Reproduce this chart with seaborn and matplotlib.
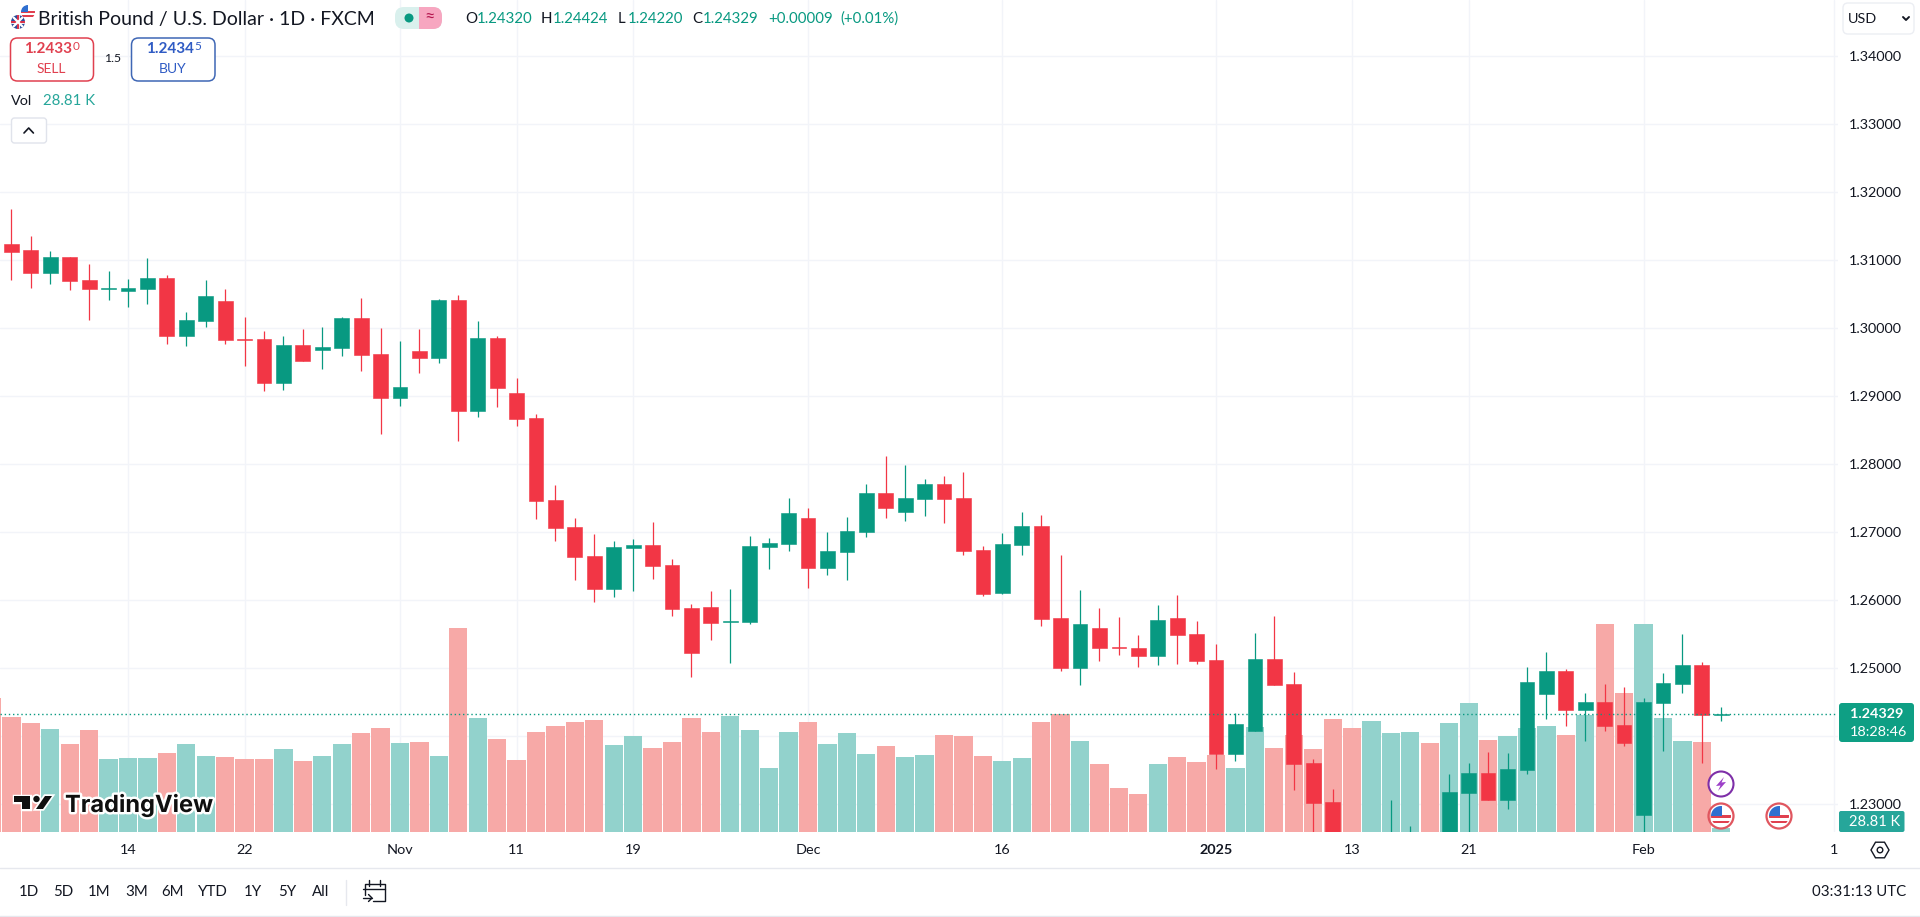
import matplotlib
matplotlib.use("Agg")
import matplotlib.pyplot as plt
from matplotlib.patches import Circle, FancyBboxPatch, Polygon, Rectangle, RegularPolygon
import matplotlib.patheffects as pe
import pandas as pd
import seaborn as sns

# OHLC, one value per day (i = 0 .. 88)
opens = [1.31240, 1.31152, 1.30814, 1.31049, 1.30711, 1.30583, 1.30549, 1.30579, 1.30740, 1.29888,
         1.30108, 1.30402, 1.29844, 1.29844, 1.29197, 1.29755, 1.29682, 1.29711, 1.30152, 1.29623,
         1.28976, 1.29667, 1.29564, 1.30417, 1.28785, 1.29858, 1.29050, 1.28681, 1.27476, 1.27079,
         1.26652, 1.26167, 1.26770, 1.26814, 1.26520, 1.25888, 1.25903, 1.25682, 1.25682, 1.26785,
         1.26829, 1.27211, 1.26476, 1.26711, 1.27005, 1.27579, 1.27299, 1.27490, 1.27711, 1.27505,
         1.26741, 1.26109, 1.26814, 1.27093, 1.25740, 1.25005, 1.25593, 1.25314, 1.25299, 1.25181,
         1.25740, 1.25505, 1.25123, 1.23741, 1.24079, 1.25137, 1.24770, 1.23608, 1.23035, 1.22500,
         1.22000, 1.22200, 1.22400, 1.22500, 1.22400, 1.23167, 1.23461, 1.23064, 1.23505, 1.24623,
         1.24961, 1.24387, 1.24505, 1.24167, 1.22844, 1.24490, 1.24770, 1.25049, 1.24320]
highs = [1.31755, 1.31358, 1.31137, 1.31049, 1.30946, 1.30843, 1.30726, 1.31034, 1.30784, 1.30240,
         1.30711, 1.30579, 1.30167, 1.29961, 1.29888, 1.29991, 1.30020, 1.30167, 1.30446, 1.30005,
         1.29814, 1.29991, 1.30427, 1.30490, 1.30108, 1.29888, 1.29270, 1.28740, 1.27696, 1.27211,
         1.26976, 1.26873, 1.26902, 1.27152, 1.26608, 1.25947, 1.26138, 1.26167, 1.26946, 1.26917,
         1.27505, 1.27358, 1.27005, 1.27226, 1.27711, 1.28123, 1.27990, 1.27784, 1.27828, 1.27887,
         1.26800, 1.26991, 1.27299, 1.27255, 1.26666, 1.26152, 1.25887, 1.25755, 1.25490, 1.25931,
         1.26078, 1.25696, 1.25358, 1.24343, 1.25519, 1.25769, 1.24946, 1.23667, 1.23226, 1.22600,
         1.22500, 1.23064, 1.22682, 1.22550, 1.23447, 1.23608, 1.23770, 1.23755, 1.25020, 1.25240,
         1.24990, 1.24637, 1.24770, 1.24726, 1.24559, 1.24931, 1.25505, 1.25093, 1.24424]
lows = [1.30711, 1.30593, 1.30652, 1.30564, 1.30123, 1.30417, 1.30314, 1.30358, 1.29770, 1.29741,
        1.30020, 1.29770, 1.29447, 1.29079, 1.29094, 1.29520, 1.29403, 1.29594, 1.29373, 1.28447,
        1.28859, 1.29339, 1.29491, 1.28344, 1.28697, 1.28844, 1.28565, 1.27196, 1.26873, 1.26300,
        1.25976, 1.26050, 1.26138, 1.26314, 1.25770, 1.24874, 1.25418, 1.25080, 1.25653, 1.26461,
        1.26726, 1.26182, 1.26373, 1.26300, 1.26932, 1.27211, 1.27167, 1.27240, 1.27138, 1.26667,
        1.26065, 1.26094, 1.26667, 1.25623, 1.24961, 1.24755, 1.25108, 1.25196, 1.25020, 1.25049,
        1.25064, 1.25064, 1.23520, 1.23638, 1.24079, 1.24755, 1.23211, 1.22500, 1.22450, 1.22000,
        1.21900, 1.22000, 1.22200, 1.22100, 1.22200, 1.22500, 1.23064, 1.22932, 1.23447, 1.24255,
        1.24152, 1.23932, 1.24079, 1.23858, 1.22500, 1.23785, 1.24637, 1.23608, 1.24220]
closes = [1.31123, 1.30814, 1.31049, 1.30696, 1.30579, 1.30593, 1.30593, 1.30740, 1.29888, 1.30123,
          1.30476, 1.29829, 1.29834, 1.29197, 1.29755, 1.29520, 1.29726, 1.30152, 1.29608, 1.28976,
          1.29138, 1.29564, 1.30417, 1.28785, 1.29858, 1.29123, 1.28668, 1.27461, 1.27064, 1.26638,
          1.26167, 1.26785, 1.26814, 1.26505, 1.25873, 1.25227, 1.25668, 1.25697, 1.26800, 1.26844,
          1.27285, 1.26476, 1.26726, 1.27020, 1.27579, 1.27358, 1.27505, 1.27711, 1.27490, 1.26726,
          1.26094, 1.26829, 1.27093, 1.25726, 1.25005, 1.25652, 1.25299, 1.25304, 1.25181, 1.25711,
          1.25490, 1.25108, 1.23741, 1.24182, 1.25137, 1.24755, 1.23594, 1.23020, 1.22550, 1.22200,
          1.22400, 1.22600, 1.22600, 1.22250, 1.23182, 1.23461, 1.23064, 1.23520, 1.24799, 1.24961,
          1.24387, 1.24505, 1.24152, 1.23902, 1.24505, 1.24784, 1.25049, 1.24314, 1.24329]

# volume in thousands, first entry is the sliver of the day before i = 0
volumes = [1069, 923, 875, 824, 707, 816, 587, 595, 595, 632, 707, 611, 600, 587, 587, 667, 571, 611,
           707, 795, 835, 715, 723, 611, 1632, 915, 744, 579, 803, 851, 883, 899, 699, 771, 675, 723,
           915, 803, 931, 819, 515, 803, 883, 707, 795, 627, 691, 603, 619, 779, 771, 611, 571, 595,
           883, 947, 731, 547, 355, 307, 547, 603, 563, 619, 515, 843, 675, 776, 664, 904, 832, 888,
           792, 800, 712, 872, 1032, 736, 768, 832, 848, 776, 936, 1664, 1112, 1664, 912, 728, 720, 28.81]

price_ticks = [1.34, 1.33, 1.32, 1.31, 1.30, 1.29, 1.28, 1.27, 1.26, 1.25, 1.24, 1.23]
price_hidden = [1.24]  # sits behind the last price tag in the reference
date_pos = [6, 12, 20, 26, 32, 41, 51, 62, 69, 75, 84, 93.8]
date_labels = ["14", "22", "Nov", "11", "19", "Dec", "16", "2025", "13", "21", "Feb", "1"]
last_price = 1.24329

RED = "#f23645"
GREEN = "#089981"
VOL_RED = "#f7a9a7"
VOL_GREEN = "#92d2cc"
GRID = "#f2f4f9"
INK = "#131722"
FONT = "Lato"

sns.set_theme(style="white")
plt.rcParams["font.family"] = [FONT, "DejaVu Sans"]

W, H = 1920, 917
PANE_R, PANE_B = 1838, 832
fig = plt.figure(figsize=(W / 100, H / 100), dpi=100, facecolor="white")
pane = [0, 1 - PANE_B / H, PANE_R / W, PANE_B / H]

# x: bar i sits at 11.4 + 19.43 * i px; y: 1.31 at 260.3 px, 0.01 = 68 px
x_range = (-11.4 / 19.43, (PANE_R - 11.4) / 19.43)
y_range = (1.31 - (PANE_B - 260.3) / 6800, 1.31 + 260.3 / 6800)

# back layer: grid and axis labels
ax_bg = fig.add_axes(pane, zorder=1)
ax_bg.set_xlim(x_range)
ax_bg.set_ylim(y_range)
ax_bg.set_xticks(date_pos)
ax_bg.set_xticklabels(date_labels)
ax_bg.set_yticks(price_ticks)
ax_bg.set_yticklabels(["" if p in price_hidden else f"{p:.5f}" for p in price_ticks])
ax_bg.yaxis.tick_right()
ax_bg.tick_params(axis="both", length=0, labelsize=10.4, labelcolor=INK)
ax_bg.tick_params(axis="y", pad=8)
ax_bg.tick_params(axis="x", pad=9)
ax_bg.grid(True, color=GRID, linewidth=1)
for lab in ax_bg.get_xticklabels():
    if lab.get_text() == "2025":
        lab.set_fontweight("bold")
sns.despine(ax=ax_bg, left=True, bottom=True, right=True, top=True)

# volume layer
sides = ["down" if c < o else "up" for o, c in zip(opens, closes)]
vol_df = pd.DataFrame({
    "day": list(range(-1, len(opens))),
    "volume": volumes,
    "side": ["down"] + sides,
})
ax_vol = fig.add_axes(pane, zorder=2)
ax_vol.patch.set_alpha(0)
sns.barplot(data=vol_df, x="day", y="volume", hue="side", palette={"up": VOL_GREEN, "down": VOL_RED},
            native_scale=True, dodge=False, width=0.94, saturation=1, linewidth=0, legend=False, ax=ax_vol)
ax_vol.set_xlim(x_range)
ax_vol.set_ylim(0, PANE_B * 8)
ax_vol.axis("off")

# candles on top
ax = fig.add_axes(pane, zorder=3)
ax.patch.set_alpha(0)
ax.axhline(last_price, color=GREEN, linewidth=1, linestyle=(0, (1, 2)))
for i, (o, h, l, c) in enumerate(zip(opens, highs, lows, closes)):
    col = RED if c < o else GREEN
    ax.vlines(i, l, h, color=col, linewidth=0.9)
    ax.bar(i, abs(c - o), bottom=min(o, c), width=0.76, color=col, edgecolor=col, linewidth=0.4)
ax.set_xlim(x_range)
ax.set_ylim(y_range)
ax.axis("off")

# everything around the chart in pixel coordinates
ui = fig.add_axes([0, 0, 1, 1], zorder=4)
ui.set_xlim(0, W)
ui.set_ylim(H, 0)
ui.axis("off")
ui.patch.set_alpha(0)


def label(x, y, s, size=10.4, color=INK, ha="left", weight="normal"):
    return ui.text(x, y, s, fontsize=size, color=color, ha=ha, va="center", fontweight=weight)


def box(x0, y0, x1, y1, face="white", edge="none", lw=1.0, r=3):
    p = FancyBboxPatch((x0 + r, y0 + r), x1 - x0 - 2 * r, y1 - y0 - 2 * r, boxstyle=f"round,pad={r}",
                       facecolor=face, edgecolor=edge, linewidth=lw)
    ui.add_patch(p)
    return p


def clipped(clip, artist):
    ui.add_patch(artist)
    artist.set_clip_path(clip)


def us_flag(cx, cy, r):
    c = Circle((cx, cy), r, facecolor="white", edgecolor="none")
    ui.add_patch(c)
    for k in (-0.1, 0.45):
        clipped(c, Rectangle((cx - r, cy + k * r), 2 * r, 0.28 * r, facecolor="#e0404f", edgecolor="none"))
    clipped(c, Rectangle((cx - r, cy - r), r * 1.05, r, facecolor="#2f6fd0", edgecolor="none"))


def uk_flag(cx, cy, r):
    c = Circle((cx, cy), r, facecolor="#2b4d9b", edgecolor="none")
    ui.add_patch(c)
    for dx, dy in ((1, 1), (1, -1)):
        ln, = ui.plot([cx - dx * r, cx + dx * r], [cy - dy * r, cy + dy * r], color="white", lw=1.6)
        ln.set_clip_path(c)
    clipped(c, Rectangle((cx - r, cy - 1.5), 2 * r, 3, facecolor="#e8eaf0", edgecolor="none"))
    clipped(c, Rectangle((cx - 1.5, cy - r), 3, 2 * r, facecolor="#e8eaf0", edgecolor="none"))
    clipped(c, Rectangle((cx - r, cy - 0.8), 2 * r, 1.6, facecolor="#d9324a", edgecolor="none"))
    clipped(c, Rectangle((cx - 0.8, cy - r), 1.6, 2 * r, facecolor="#d9324a", edgecolor="none"))


# header
us_flag(28, 12, 7)
uk_flag(18, 22, 7)
label(38, 19, "British Pound / U.S. Dollar · 1D · FXCM", size=14)
pill = box(395, 7, 442, 29, face="#d9f0ed", r=9)
clipped(pill, Rectangle((419, 7), 23, 22, facecolor="#f7a6c0", edgecolor="none"))
ui.add_patch(Circle((409, 18), 4.5, facecolor=GREEN, edgecolor="none"))
label(430, 18, "≈", size=13, color="#b5174f", ha="center")

for x, s, col in [(465, "O", INK), (477, "1.24320", GREEN), (541, "H", INK), (553, "1.24424", GREEN),
                  (618, "L", INK), (628, "1.24220", GREEN), (692, "C", INK), (703, "1.24329", GREEN),
                  (768, "+0.00009", GREEN), (840, "(+0.01%)", GREEN)]:
    label(x, 19, s, size=10.8, color=col)

# sell / buy
box(10.5, 38, 93.5, 81, edge="#e0404f", lw=1.1, r=7)
label(24.5, 49, "1.2433", size=11, color="#e0404f", weight="bold")
label(72.5, 47, "0", size=8.5, color="#e0404f")
label(51, 69, "SELL", size=10, color="#e0404f", ha="center")
label(113, 59, "1.5", size=8.8, ha="center")
box(131.5, 38, 215, 81, edge="#3f67b5", lw=1.1, r=7)
label(146, 49, "1.2434", size=11, color="#2f5bc4", weight="bold")
label(194.5, 47, "5", size=8.5, color="#2f5bc4")
label(173, 69, "BUY", size=10, color="#2f5bc4", ha="center")
label(11, 101, "Vol", size=10.4)
label(43, 101, "28.81 K", size=10.8, color="#26a69a")
box(11.5, 118, 46.5, 143, edge="#e0e3eb", lw=1, r=3)
ui.plot([24, 28.7, 33.4], [133, 128, 133], color=INK, lw=1.2)

# currency box
box(1843, 3, 1914, 34, edge="#eceef3", lw=1, r=5)
label(1848, 19, "USD", size=10.4)
ui.plot([1903, 1906, 1909], [17, 20, 17], color=INK, lw=1.4)

# price tags
box(1839, 703, 1914, 742, face="#0e9f84", r=3)
label(1850, 714, "1.24329", size=10.4, color="white", weight="bold")
label(1850, 732, "18:28:46", size=10.4, color="white")
box(1839, 811, 1904.5, 832, face="#26a69a", r=2)
label(1849, 822, "28.81 K", size=10.6, color="white")

# logo
logo_shapes = [
    [(14, 796), (30, 796), (30, 809), (22, 809), (22, 802), (14, 802)],
    [(45, 796), (52, 796), (43, 809), (36, 809)],
]
for pts in logo_shapes:
    ui.add_patch(Polygon(pts, closed=True, facecolor="white", edgecolor="white", linewidth=2.5))
ui.add_patch(Circle((36.5, 799), 3.2, facecolor="white", edgecolor="white", linewidth=2.5))
for pts in logo_shapes:
    ui.add_patch(Polygon(pts, closed=True, facecolor="#0f0f0f", edgecolor="none"))
ui.add_patch(Circle((36.5, 799), 3.2, facecolor="#0f0f0f", edgecolor="none"))
logo_txt = ui.text(65, 805.5, "TradingView", fontsize=17, fontweight="bold", color="#0f0f0f", va="center",
                   family=["Inter", "DejaVu Sans"])
logo_txt.set_path_effects([pe.withStroke(linewidth=3.5, foreground="white")])

# event markers
ui.add_patch(Circle((1721, 784), 12.5, facecolor="white", edgecolor="#7e2fa8", linewidth=1.5))
ui.add_patch(Polygon([(1724, 777), (1716, 786), (1720.5, 785.5), (1718, 791), (1726, 782), (1721.5, 782.5)],
                     closed=True, facecolor="#9c3fc8", edgecolor="none"))
for cx in (1721, 1779):
    us_flag(cx, 816, 10)
    ui.add_patch(Circle((cx, 816), 12.5, facecolor="none", edgecolor="#e0565f", linewidth=1.6))

# settings hexagon
ui.add_patch(RegularPolygon((1880, 850), 6, radius=9, orientation=0.5236, facecolor="none", edgecolor=INK, linewidth=1))
ui.add_patch(Circle((1880, 850), 2.8, facecolor="none", edgecolor=INK, linewidth=1))

# toolbar
ui.plot([0, W], [867.5, 867.5], color="#e6e8ee", lw=1)
ui.plot([0, W], [915.5, 915.5], color="#e6e8ee", lw=1)
for x, s in [(18.5, "1D"), (53, "5D"), (88, "1M"), (125, "3M"), (161, "6M"), (198, "YTD"), (244, "1Y"), (278, "5Y"), (312, "All")]:
    label(x, 892, s, size=10.8)
ui.plot([345.5, 345.5], [880, 905], color="#e6e8ee", lw=1)
ui.plot([365, 365, 385, 385, 373], [895, 884, 884, 901, 901], color=INK, lw=1)
ui.plot([363, 385], [889, 889], color=INK, lw=1)
ui.plot([369, 369], [880, 886], color=INK, lw=1)
ui.plot([380, 380], [880, 886], color=INK, lw=1)
ui.plot([363, 372], [898, 898], color=INK, lw=1)
ui.plot([368.5, 372, 368.5], [894.5, 898, 901.5], color=INK, lw=1)
label(1906.5, 892, "03:31:13 UTC", size=10.8, ha="right")

fig.savefig("out.png", dpi=100, facecolor="white")
